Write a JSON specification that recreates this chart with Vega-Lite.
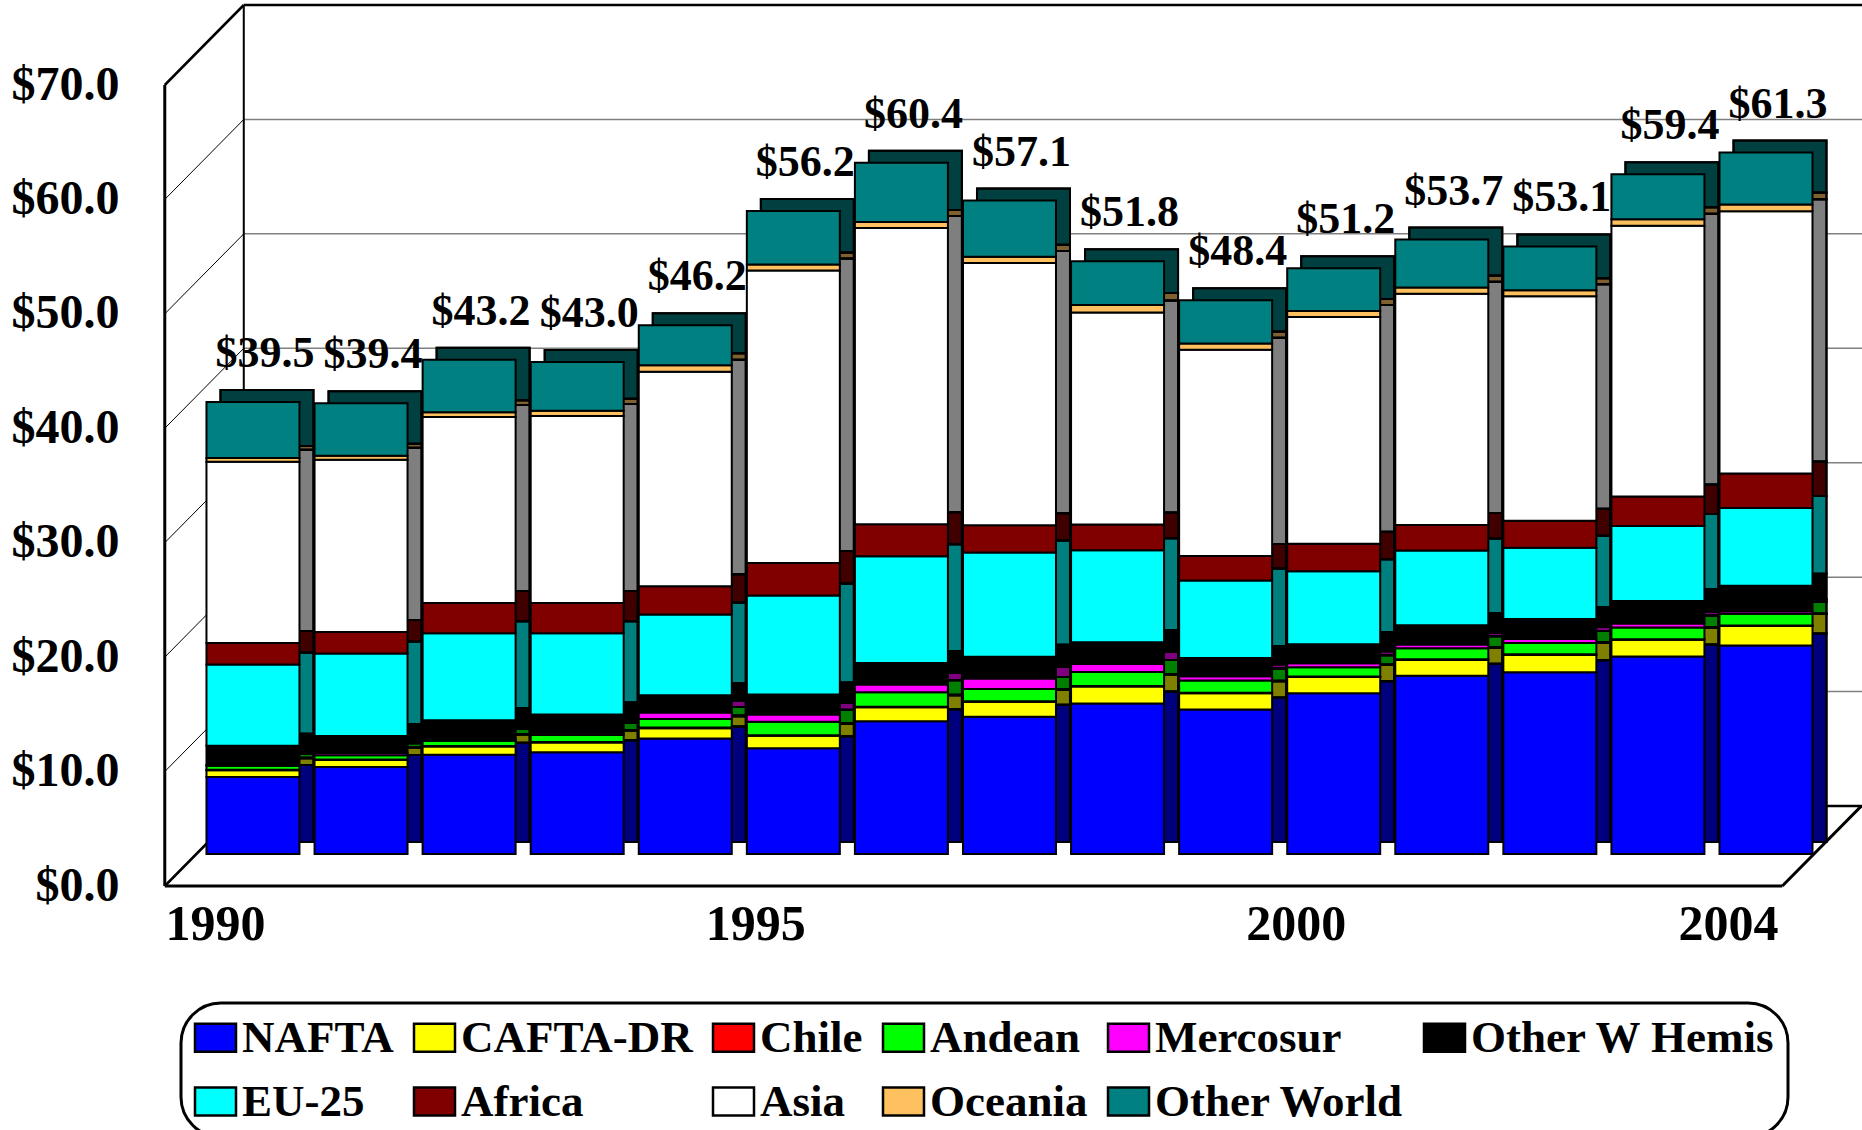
{
  "$schema": "https://vega.github.io/schema/vega-lite/v6.json",
  "autosize": {"type": "none"},
  "width": 1702,
  "height": 801,
  "padding": {"left": 160, "top": 53, "right": 0, "bottom": 276},
  "background": "white",
  "config": {
    "view": {"stroke": null},
    "font": "Liberation Serif"
  },
  "datasets": {
    "imports": [
      {"year": 1990, "region": "NAFTA", "rank": 0, "value": 6.74},
      {"year": 1990, "region": "CAFTA-DR", "rank": 1, "value": 0.58},
      {"year": 1990, "region": "Chile", "rank": 2, "value": 0.05},
      {"year": 1990, "region": "Andean", "rank": 3, "value": 0.35},
      {"year": 1990, "region": "Mercosur", "rank": 4, "value": 0.05},
      {"year": 1990, "region": "Other W Hemis", "rank": 5, "value": 1.70},
      {"year": 1990, "region": "EU-25", "rank": 6, "value": 7.10},
      {"year": 1990, "region": "Africa", "rank": 7, "value": 1.87},
      {"year": 1990, "region": "Asia", "rank": 8, "value": 15.84},
      {"year": 1990, "region": "Oceania", "rank": 9, "value": 0.32},
      {"year": 1990, "region": "Other World", "rank": 10, "value": 4.90},

      {"year": 1991, "region": "NAFTA", "rank": 0, "value": 7.60},
      {"year": 1991, "region": "CAFTA-DR", "rank": 1, "value": 0.61},
      {"year": 1991, "region": "Chile", "rank": 2, "value": 0.05},
      {"year": 1991, "region": "Andean", "rank": 3, "value": 0.36},
      {"year": 1991, "region": "Mercosur", "rank": 4, "value": 0.20},
      {"year": 1991, "region": "Other W Hemis", "rank": 5, "value": 1.50},
      {"year": 1991, "region": "EU-25", "rank": 6, "value": 7.20},
      {"year": 1991, "region": "Africa", "rank": 7, "value": 1.87},
      {"year": 1991, "region": "Asia", "rank": 8, "value": 15.06},
      {"year": 1991, "region": "Oceania", "rank": 9, "value": 0.35},
      {"year": 1991, "region": "Other World", "rank": 10, "value": 4.60},

      {"year": 1992, "region": "NAFTA", "rank": 0, "value": 8.68},
      {"year": 1992, "region": "CAFTA-DR", "rank": 1, "value": 0.71},
      {"year": 1992, "region": "Chile", "rank": 2, "value": 0.05},
      {"year": 1992, "region": "Andean", "rank": 3, "value": 0.45},
      {"year": 1992, "region": "Mercosur", "rank": 4, "value": 0.15},
      {"year": 1992, "region": "Other W Hemis", "rank": 5, "value": 1.65},
      {"year": 1992, "region": "EU-25", "rank": 6, "value": 7.60},
      {"year": 1992, "region": "Africa", "rank": 7, "value": 2.65},
      {"year": 1992, "region": "Asia", "rank": 8, "value": 16.26},
      {"year": 1992, "region": "Oceania", "rank": 9, "value": 0.40},
      {"year": 1992, "region": "Other World", "rank": 10, "value": 4.60},

      {"year": 1993, "region": "NAFTA", "rank": 0, "value": 8.90},
      {"year": 1993, "region": "CAFTA-DR", "rank": 1, "value": 0.84},
      {"year": 1993, "region": "Chile", "rank": 2, "value": 0.05},
      {"year": 1993, "region": "Andean", "rank": 3, "value": 0.60},
      {"year": 1993, "region": "Mercosur", "rank": 4, "value": 0.20},
      {"year": 1993, "region": "Other W Hemis", "rank": 5, "value": 1.60},
      {"year": 1993, "region": "EU-25", "rank": 6, "value": 7.10},
      {"year": 1993, "region": "Africa", "rank": 7, "value": 2.65},
      {"year": 1993, "region": "Asia", "rank": 8, "value": 16.34},
      {"year": 1993, "region": "Oceania", "rank": 9, "value": 0.45},
      {"year": 1993, "region": "Other World", "rank": 10, "value": 4.27},

      {"year": 1994, "region": "NAFTA", "rank": 0, "value": 10.09},
      {"year": 1994, "region": "CAFTA-DR", "rank": 1, "value": 0.91},
      {"year": 1994, "region": "Chile", "rank": 2, "value": 0.05},
      {"year": 1994, "region": "Andean", "rank": 3, "value": 0.74},
      {"year": 1994, "region": "Mercosur", "rank": 4, "value": 0.57},
      {"year": 1994, "region": "Other W Hemis", "rank": 5, "value": 1.52},
      {"year": 1994, "region": "EU-25", "rank": 6, "value": 7.04},
      {"year": 1994, "region": "Africa", "rank": 7, "value": 2.48},
      {"year": 1994, "region": "Asia", "rank": 8, "value": 18.75},
      {"year": 1994, "region": "Oceania", "rank": 9, "value": 0.57},
      {"year": 1994, "region": "Other World", "rank": 10, "value": 3.48},

      {"year": 1995, "region": "NAFTA", "rank": 0, "value": 9.24},
      {"year": 1995, "region": "CAFTA-DR", "rank": 1, "value": 1.09},
      {"year": 1995, "region": "Chile", "rank": 2, "value": 0.05},
      {"year": 1995, "region": "Andean", "rank": 3, "value": 1.17},
      {"year": 1995, "region": "Mercosur", "rank": 4, "value": 0.65},
      {"year": 1995, "region": "Other W Hemis", "rank": 5, "value": 1.74},
      {"year": 1995, "region": "EU-25", "rank": 6, "value": 8.64},
      {"year": 1995, "region": "Africa", "rank": 7, "value": 2.86},
      {"year": 1995, "region": "Asia", "rank": 8, "value": 25.55},
      {"year": 1995, "region": "Oceania", "rank": 9, "value": 0.52},
      {"year": 1995, "region": "Other World", "rank": 10, "value": 4.69},

      {"year": 1996, "region": "NAFTA", "rank": 0, "value": 11.60},
      {"year": 1996, "region": "CAFTA-DR", "rank": 1, "value": 1.22},
      {"year": 1996, "region": "Chile", "rank": 2, "value": 0.05},
      {"year": 1996, "region": "Andean", "rank": 3, "value": 1.26},
      {"year": 1996, "region": "Mercosur", "rank": 4, "value": 0.69},
      {"year": 1996, "region": "Other W Hemis", "rank": 5, "value": 1.87},
      {"year": 1996, "region": "EU-25", "rank": 6, "value": 9.34},
      {"year": 1996, "region": "Africa", "rank": 7, "value": 2.78},
      {"year": 1996, "region": "Asia", "rank": 8, "value": 25.90},
      {"year": 1996, "region": "Oceania", "rank": 9, "value": 0.52},
      {"year": 1996, "region": "Other World", "rank": 10, "value": 5.17},

      {"year": 1997, "region": "NAFTA", "rank": 0, "value": 12.00},
      {"year": 1997, "region": "CAFTA-DR", "rank": 1, "value": 1.30},
      {"year": 1997, "region": "Chile", "rank": 2, "value": 0.05},
      {"year": 1997, "region": "Andean", "rank": 3, "value": 1.08},
      {"year": 1997, "region": "Mercosur", "rank": 4, "value": 0.91},
      {"year": 1997, "region": "Other W Hemis", "rank": 5, "value": 1.90},
      {"year": 1997, "region": "EU-25", "rank": 6, "value": 9.10},
      {"year": 1997, "region": "Africa", "rank": 7, "value": 2.39},
      {"year": 1997, "region": "Asia", "rank": 8, "value": 22.91},
      {"year": 1997, "region": "Oceania", "rank": 9, "value": 0.56},
      {"year": 1997, "region": "Other World", "rank": 10, "value": 4.90},

      {"year": 1998, "region": "NAFTA", "rank": 0, "value": 13.16},
      {"year": 1998, "region": "CAFTA-DR", "rank": 1, "value": 1.48},
      {"year": 1998, "region": "Chile", "rank": 2, "value": 0.05},
      {"year": 1998, "region": "Andean", "rank": 3, "value": 1.22},
      {"year": 1998, "region": "Mercosur", "rank": 4, "value": 0.69},
      {"year": 1998, "region": "Other W Hemis", "rank": 5, "value": 1.91},
      {"year": 1998, "region": "EU-25", "rank": 6, "value": 8.03},
      {"year": 1998, "region": "Africa", "rank": 7, "value": 2.26},
      {"year": 1998, "region": "Asia", "rank": 8, "value": 18.53},
      {"year": 1998, "region": "Oceania", "rank": 9, "value": 0.65},
      {"year": 1998, "region": "Other World", "rank": 10, "value": 3.82},

      {"year": 1999, "region": "NAFTA", "rank": 0, "value": 12.62},
      {"year": 1999, "region": "CAFTA-DR", "rank": 1, "value": 1.43},
      {"year": 1999, "region": "Chile", "rank": 2, "value": 0.05},
      {"year": 1999, "region": "Andean", "rank": 3, "value": 1.07},
      {"year": 1999, "region": "Mercosur", "rank": 4, "value": 0.36},
      {"year": 1999, "region": "Other W Hemis", "rank": 5, "value": 1.60},
      {"year": 1999, "region": "EU-25", "rank": 6, "value": 6.78},
      {"year": 1999, "region": "Africa", "rank": 7, "value": 2.14},
      {"year": 1999, "region": "Asia", "rank": 8, "value": 18.02},
      {"year": 1999, "region": "Oceania", "rank": 9, "value": 0.54},
      {"year": 1999, "region": "Other World", "rank": 10, "value": 3.79},

      {"year": 2000, "region": "NAFTA", "rank": 0, "value": 14.04},
      {"year": 2000, "region": "CAFTA-DR", "rank": 1, "value": 1.43},
      {"year": 2000, "region": "Chile", "rank": 2, "value": 0.05},
      {"year": 2000, "region": "Andean", "rank": 3, "value": 0.80},
      {"year": 2000, "region": "Mercosur", "rank": 4, "value": 0.36},
      {"year": 2000, "region": "Other W Hemis", "rank": 5, "value": 1.65},
      {"year": 2000, "region": "EU-25", "rank": 6, "value": 6.37},
      {"year": 2000, "region": "Africa", "rank": 7, "value": 2.41},
      {"year": 2000, "region": "Asia", "rank": 8, "value": 19.82},
      {"year": 2000, "region": "Oceania", "rank": 9, "value": 0.53},
      {"year": 2000, "region": "Other World", "rank": 10, "value": 3.74},

      {"year": 2001, "region": "NAFTA", "rank": 0, "value": 15.58},
      {"year": 2001, "region": "CAFTA-DR", "rank": 1, "value": 1.38},
      {"year": 2001, "region": "Chile", "rank": 2, "value": 0.05},
      {"year": 2001, "region": "Andean", "rank": 3, "value": 0.98},
      {"year": 2001, "region": "Mercosur", "rank": 4, "value": 0.31},
      {"year": 2001, "region": "Other W Hemis", "rank": 5, "value": 1.70},
      {"year": 2001, "region": "EU-25", "rank": 6, "value": 6.52},
      {"year": 2001, "region": "Africa", "rank": 7, "value": 2.23},
      {"year": 2001, "region": "Asia", "rank": 8, "value": 20.21},
      {"year": 2001, "region": "Oceania", "rank": 9, "value": 0.54},
      {"year": 2001, "region": "Other World", "rank": 10, "value": 4.20},

      {"year": 2002, "region": "NAFTA", "rank": 0, "value": 15.89},
      {"year": 2002, "region": "CAFTA-DR", "rank": 1, "value": 1.51},
      {"year": 2002, "region": "Chile", "rank": 2, "value": 0.05},
      {"year": 2002, "region": "Andean", "rank": 3, "value": 0.98},
      {"year": 2002, "region": "Mercosur", "rank": 4, "value": 0.36},
      {"year": 2002, "region": "Other W Hemis", "rank": 5, "value": 1.74},
      {"year": 2002, "region": "EU-25", "rank": 6, "value": 6.23},
      {"year": 2002, "region": "Africa", "rank": 7, "value": 2.36},
      {"year": 2002, "region": "Asia", "rank": 8, "value": 19.62},
      {"year": 2002, "region": "Oceania", "rank": 9, "value": 0.53},
      {"year": 2002, "region": "Other World", "rank": 10, "value": 3.83},

      {"year": 2003, "region": "NAFTA", "rank": 0, "value": 17.25},
      {"year": 2003, "region": "CAFTA-DR", "rank": 1, "value": 1.47},
      {"year": 2003, "region": "Chile", "rank": 2, "value": 0.05},
      {"year": 2003, "region": "Andean", "rank": 3, "value": 1.02},
      {"year": 2003, "region": "Mercosur", "rank": 4, "value": 0.36},
      {"year": 2003, "region": "Other W Hemis", "rank": 5, "value": 1.96},
      {"year": 2003, "region": "EU-25", "rank": 6, "value": 6.55},
      {"year": 2003, "region": "Africa", "rank": 7, "value": 2.58},
      {"year": 2003, "region": "Asia", "rank": 8, "value": 23.66},
      {"year": 2003, "region": "Oceania", "rank": 9, "value": 0.58},
      {"year": 2003, "region": "Other World", "rank": 10, "value": 3.92},

      {"year": 2004, "region": "NAFTA", "rank": 0, "value": 18.23},
      {"year": 2004, "region": "CAFTA-DR", "rank": 1, "value": 1.69},
      {"year": 2004, "region": "Chile", "rank": 2, "value": 0.05},
      {"year": 2004, "region": "Andean", "rank": 3, "value": 1.03},
      {"year": 2004, "region": "Mercosur", "rank": 4, "value": 0.22},
      {"year": 2004, "region": "Other W Hemis", "rank": 5, "value": 2.23},
      {"year": 2004, "region": "EU-25", "rank": 6, "value": 6.78},
      {"year": 2004, "region": "Africa", "rank": 7, "value": 3.03},
      {"year": 2004, "region": "Asia", "rank": 8, "value": 22.91},
      {"year": 2004, "region": "Oceania", "rank": 9, "value": 0.58},
      {"year": 2004, "region": "Other World", "rank": 10, "value": 4.55}
    ],
    "innerLevels": [
      {"level": 10}, {"level": 20}, {"level": 30},
      {"level": 40}, {"level": 50}, {"level": 60}
    ],
    "outerLevels": [{"level": 0}, {"level": 70}],
    "single": [{}]
  },
  "data": {"name": "imports"},
  "layer": [
    {
      "description": "back wall gridlines",
      "data": {"name": "innerLevels"},
      "mark": {"type": "rule", "color": "#808080", "strokeWidth": 1.5, "xOffset": 47, "x2Offset": 47, "yOffset": -48},
      "encoding": {
        "x": {"datum": 1989.48, "type": "quantitative"},
        "x2": {"datum": 2004.842},
        "y": {"field": "level", "type": "quantitative"}
      }
    },
    {
      "description": "side wall diagonals",
      "data": {"name": "innerLevels"},
      "mark": {"type": "rule", "color": "black", "strokeWidth": 1, "xOffset": -32, "x2Offset": 47, "yOffset": 32, "y2Offset": -48},
      "encoding": {
        "x": {"datum": 1989.48, "type": "quantitative"},
        "x2": {"datum": 1989.48},
        "y": {"field": "level", "type": "quantitative"},
        "y2": {"field": "level"}
      }
    },
    {
      "description": "side wall top and bottom edges",
      "data": {"name": "outerLevels"},
      "mark": {"type": "rule", "color": "black", "strokeWidth": 2.5, "xOffset": -32, "x2Offset": 47, "yOffset": 32, "y2Offset": -48},
      "encoding": {
        "x": {"datum": 1989.48, "type": "quantitative"},
        "x2": {"datum": 1989.48},
        "y": {"field": "level", "type": "quantitative"},
        "y2": {"field": "level"}
      }
    },
    {
      "description": "back wall top and floor back edges",
      "data": {"name": "outerLevels"},
      "mark": {"type": "rule", "color": "black", "strokeWidth": 2.5, "xOffset": 47, "x2Offset": 47, "yOffset": -48},
      "encoding": {
        "x": {"datum": 1989.48, "type": "quantitative"},
        "x2": {"datum": 2004.842},
        "y": {"field": "level", "type": "quantitative"}
      }
    },
    {
      "description": "back corner edge",
      "data": {"name": "single"},
      "mark": {"type": "rule", "color": "black", "strokeWidth": 2, "xOffset": 47, "yOffset": -48, "y2Offset": -48},
      "encoding": {
        "x": {"datum": 1989.48, "type": "quantitative"},
        "y": {"datum": 0, "type": "quantitative"},
        "y2": {"datum": 70}
      }
    },
    {
      "description": "front vertical edge",
      "data": {"name": "single"},
      "mark": {"type": "rule", "color": "black", "strokeWidth": 3, "xOffset": -32, "yOffset": 32, "y2Offset": 32},
      "encoding": {
        "x": {"datum": 1989.48, "type": "quantitative"},
        "y": {"datum": 0, "type": "quantitative"},
        "y2": {"datum": 70}
      }
    },
    {
      "description": "floor front edge",
      "data": {"name": "single"},
      "mark": {"type": "rule", "color": "black", "strokeWidth": 3, "xOffset": -32, "x2Offset": -32, "yOffset": 32},
      "encoding": {
        "x": {"datum": 1989.48, "type": "quantitative"},
        "x2": {"datum": 2004.447},
        "y": {"datum": 0, "type": "quantitative"}
      }
    },
    {
      "description": "floor right edge",
      "data": {"name": "single"},
      "mark": {"type": "rule", "color": "black", "strokeWidth": 3, "xOffset": -32, "x2Offset": 47, "yOffset": 32, "y2Offset": -48},
      "encoding": {
        "x": {"datum": 2004.447, "type": "quantitative"},
        "x2": {"datum": 2004.447},
        "y": {"datum": 0, "type": "quantitative"},
        "y2": {"datum": 0}
      }
    },
    {
      "description": "bar depth faces, base colour",
      "mark": {"type": "bar", "width": 93, "stroke": "black", "strokeWidth": 2, "xOffset": 14, "yOffset": -12, "y2Offset": -12},
      "encoding": {
        "x": {"field": "year", "type": "quantitative"},
        "y": {"field": "value", "type": "quantitative", "stack": "zero"},
        "order": {"field": "rank", "type": "quantitative"},
        "color": {"field": "region", "type": "nominal"}
      }
    },
    {
      "description": "bar depth faces, shading",
      "mark": {"type": "bar", "width": 93, "fill": "black", "fillOpacity": 0.5, "stroke": "black", "strokeWidth": 2, "xOffset": 14, "yOffset": -12, "y2Offset": -12},
      "encoding": {
        "x": {"field": "year", "type": "quantitative"},
        "y": {"field": "value", "type": "quantitative", "stack": "zero"},
        "order": {"field": "rank", "type": "quantitative"},
        "detail": {"field": "region", "type": "nominal"}
      }
    },
    {
      "description": "bar front faces",
      "mark": {"type": "bar", "width": 93, "stroke": "black", "strokeWidth": 2},
      "encoding": {
        "x": {
          "field": "year",
          "type": "quantitative",
          "scale": {"domain": [1989.186, 2004.842], "nice": false, "zero": false},
          "axis": {
            "values": [1990, 1995, 2000, 2004],
            "format": "d",
            "title": null,
            "domain": false,
            "ticks": false,
            "tickSize": 0,
            "grid": false,
            "labelFont": "Liberation Serif",
            "labelFontWeight": "bold",
            "labelFontSize": 50,
            "labelColor": "black",
            "labelOffset": -38,
            "labelPadding": 70,
            "labelBaseline": "middle",
            "labelFlush": false,
            "labelOverlap": false
          }
        },
        "y": {
          "field": "value",
          "type": "quantitative",
          "stack": "zero",
          "scale": {"domain": [0, 70], "nice": false},
          "axis": {
            "values": [0, 10, 20, 30, 40, 50, 60, 70],
            "format": "$.1f",
            "title": null,
            "domain": false,
            "ticks": false,
            "tickSize": 0,
            "grid": false,
            "labelFont": "Liberation Serif",
            "labelFontWeight": "bold",
            "labelFontSize": 48,
            "labelColor": "black",
            "labelOffset": 32,
            "labelPadding": 41,
            "labelFlush": false,
            "labelOverlap": false
          }
        },
        "order": {"field": "rank", "type": "quantitative"},
        "color": {
          "field": "region",
          "type": "nominal",
          "scale": {
            "domain": ["NAFTA", "CAFTA-DR", "Chile", "Andean", "Mercosur", "Other W Hemis", "EU-25", "Africa", "Asia", "Oceania", "Other World"],
            "range": ["#0000FF", "#FFFF00", "#FF0000", "#00FF00", "#FF00FF", "#000000", "#00FFFF", "#800000", "#FFFFFF", "#FFC060", "#008080"]
          },
          "legend": {
            "title": null,
            "orient": "none",
            "legendX": 21,
            "legendY": 950,
            "direction": "horizontal",
            "columns": 6,
            "columnPadding": 15,
            "rowPadding": 18,
            "padding": 12,
            "strokeColor": "black",
            "cornerRadius": 40,
            "fillColor": "white",
            "symbolType": "M-1,-0.68H1V0.68H-1Z",
            "symbolSize": 1681,
            "symbolStrokeColor": "black",
            "symbolStrokeWidth": 2.5,
            "symbolOpacity": 1,
            "labelFont": "Liberation Serif",
            "labelFontWeight": "bold",
            "labelFontSize": 45,
            "labelColor": "black",
            "labelOffset": 4,
            "labelLimit": 0,
            "encode": {
              "legend": {"update": {"strokeWidth": {"value": 3}}}
            }
          }
        }
      }
    },
    {
      "description": "total value labels",
      "transform": [
        {"aggregate": [{"op": "sum", "field": "value", "as": "total"}], "groupby": ["year"]}
      ],
      "mark": {"type": "text", "font": "Liberation Serif", "fontWeight": "bold", "fontSize": 44, "color": "black", "align": "center", "baseline": "alphabetic", "dx": 12, "dy": -35},
      "encoding": {
        "x": {"field": "year", "type": "quantitative"},
        "y": {"field": "total", "type": "quantitative"},
        "text": {"field": "total", "type": "quantitative", "format": "$.1f"}
      }
    }
  ]
}
